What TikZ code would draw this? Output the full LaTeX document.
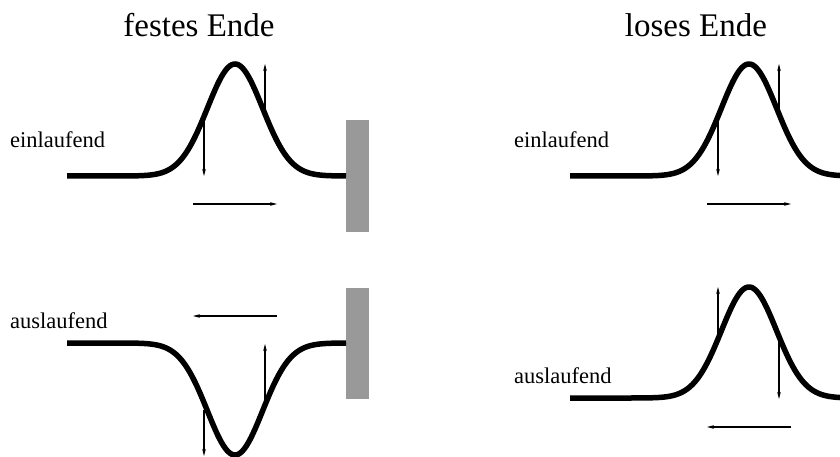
\documentclass[tikz,border=0pt]{standalone}
\usepackage{fontspec}
\setmainfont{Liberation Serif}
\usetikzlibrary{arrows.meta}
\definecolor{wallgray}{HTML}{999999}
\begin{document}
\begin{tikzpicture}[x=1pt,y=-1pt,
  wave/.style={line width=5.5pt},
  vel/.style={line width=1.2pt,-{Stealth[length=7pt,width=3.6pt]}},
  wall/.style={fill=wallgray,draw=none},
  title/.style={font=\fontsize{33}{36}\selectfont,anchor=base,inner sep=0pt},
  lbl/.style={font=\fontsize{22.5}{25}\selectfont,anchor=base west,inner sep=0pt}]
\useasboundingbox (0,0) rectangle (840,457);
% titles
\node[title] (t1) at (199,37) {festes Ende};
\node[title] (t2) at (696,37) {loses Ende};
% labels
\node[lbl] (l1) at (10,148) {einlaufend};
\node[lbl] (l2) at (10,328) {auslaufend};
\node[lbl] (l3) at (514,148) {einlaufend};
\node[lbl] (l4) at (514,383) {auslaufend};
% walls
\fill[wall] (346,120) rectangle (369,232);
\fill[wall] (346,288) rectangle (369,399);
% waves
\draw[wave] plot[domain=67:346,samples=160] (\x,{176-112*exp(-((\x-235)/39)^2)});
\draw[wave] plot[domain=67:346,samples=160] (\x,{343+112*exp(-((\x-235)/39)^2)});
\draw[wave] plot[domain=570:840,samples=160] (\x,{176-112*exp(-((\x-749)/39)^2)});
\draw[wave] plot[domain=570:840,samples=160] (\x,{398-111*exp(-((\x-749)/39)^2)});
% arrow coordinates
\coordinate (a1s) at (204,118); \coordinate (a1e) at (204,176);
\coordinate (a2s) at (265,112); \coordinate (a2e) at (265,64);
\coordinate (h1s) at (193,204); \coordinate (h1e) at (277,204);
\coordinate (b1s) at (204,410); \coordinate (b1e) at (204,456);
\coordinate (b2s) at (265,402); \coordinate (b2e) at (265,344);
\coordinate (h2s) at (277,316); \coordinate (h2e) at (193,316);
\coordinate (c1s) at (718,118); \coordinate (c1e) at (718,176);
\coordinate (c2s) at (779,112); \coordinate (c2e) at (779,64);
\coordinate (h3s) at (707,204); \coordinate (h3e) at (791,204);
\coordinate (d1s) at (718,335); \coordinate (d1e) at (718,287);
\coordinate (d2s) at (779,341); \coordinate (d2e) at (779,399);
\coordinate (h4s) at (791,427); \coordinate (h4e) at (707,427);
% arrows
\foreach \p in {a1,a2,h1,b1,b2,h2,c1,c2,h3,d1,d2,h4}
  \draw[vel] (\p s) -- (\p e);
\end{tikzpicture}
\end{document}
